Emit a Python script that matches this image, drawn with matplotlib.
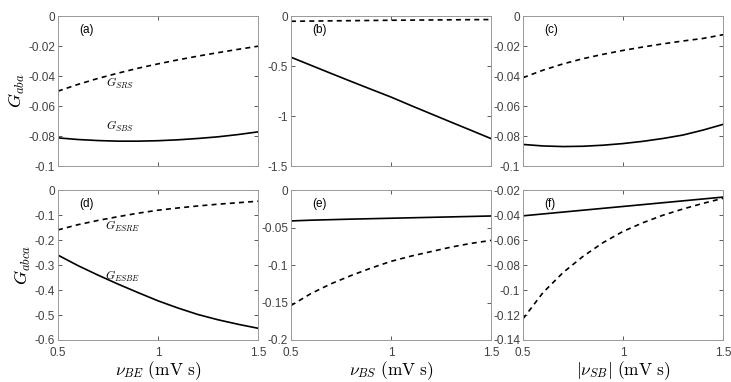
import matplotlib
matplotlib.use("Agg")
import matplotlib.pyplot as plt
from matplotlib.ticker import FuncFormatter

plt.rcParams['axes.unicode_minus'] = False
plt.rcParams['mathtext.fontset'] = 'cm'
plt.rcParams['font.family'] = 'Liberation Sans'

x = [0.5, 0.6, 0.7, 0.8, 0.9, 1.0, 1.1, 1.2, 1.3, 1.4, 1.5]

# (a) G_aba vs nu_BE
a_dash = [-0.050, -0.0455, -0.0415, -0.038, -0.0347, -0.0318, -0.0291, -0.0266, -0.0243, -0.0221, -0.0200]
a_solid = [-0.0812, -0.0823, -0.0830, -0.0834, -0.0834, -0.0831, -0.0825, -0.0816, -0.0805, -0.0790, -0.0772]
# (b) G_aba vs nu_BS
b_dash = [-0.050, -0.048, -0.046, -0.044, -0.042, -0.040, -0.0385, -0.037, -0.0355, -0.034, -0.033]
b_solid = [-0.410, -0.491, -0.572, -0.652, -0.731, -0.809, -0.894, -0.977, -1.060, -1.142, -1.225]
# (c) G_aba vs |nu_SB|
c_dash = [-0.041, -0.036, -0.0318, -0.0283, -0.0254, -0.0228, -0.0205, -0.0184, -0.0165, -0.0148, -0.0123]
c_solid = [-0.0856, -0.0866, -0.0870, -0.0868, -0.0861, -0.0850, -0.0835, -0.0816, -0.0793, -0.0760, -0.0722]
# (d) G_abca vs nu_BE
d_dash = [-0.159, -0.138, -0.121, -0.106, -0.092, -0.080, -0.071, -0.063, -0.056, -0.050, -0.044]
d_solid = [-0.260, -0.302, -0.340, -0.376, -0.410, -0.443, -0.472, -0.498, -0.519, -0.537, -0.553]
# (e) G_abca vs nu_BS
e_dash = [-0.154, -0.138, -0.125, -0.114, -0.104, -0.095, -0.088, -0.082, -0.076, -0.071, -0.067]
e_solid = [-0.041, -0.040, -0.0393, -0.0386, -0.038, -0.0374, -0.0368, -0.0362, -0.0356, -0.0350, -0.0344]
# (f) G_abca vs |nu_SB|
f_dash = [-0.123, -0.102, -0.086, -0.073, -0.062, -0.053, -0.046, -0.040, -0.035, -0.0305, -0.0265]
f_solid = [-0.0405, -0.039, -0.0375, -0.036, -0.0345, -0.033, -0.0315, -0.030, -0.0285, -0.027, -0.0255]

panels = [
    ('(a)', a_dash, a_solid, (-0.1, 0), [0, -0.02, -0.04, -0.06, -0.08, -0.1]),
    ('(b)', b_dash, b_solid, (-1.5, 0), [0, -0.5, -1, -1.5]),
    ('(c)', c_dash, c_solid, (-0.1, 0), [0, -0.02, -0.04, -0.06, -0.08, -0.1]),
    ('(d)', d_dash, d_solid, (-0.6, 0), [0, -0.1, -0.2, -0.3, -0.4, -0.5, -0.6]),
    ('(e)', e_dash, e_solid, (-0.2, 0), [0, -0.05, -0.1, -0.15, -0.2]),
    ('(f)', f_dash, f_solid, (-0.14, -0.02), [-0.02, -0.04, -0.06, -0.08, -0.1, -0.12, -0.14]),
]
xlabels = [r'$\nu_{BE}\ \mathrm{(mV\ s)}$', r'$\nu_{BS}\ \mathrm{(mV\ s)}$', r'$|\nu_{SB}|\ \mathrm{(mV\ s)}$']

fig = plt.figure(figsize=(7.31, 3.82), dpi=100)
lefts = [0.0793, 0.398, 0.7155]
bottoms = [0.5654, 0.110]
w, h = 0.2736, 0.392

axes = []
for i, (lab, yd, ys, ylim, yt) in enumerate(panels):
    r, c = divmod(i, 3)
    ax = fig.add_axes([lefts[c], bottoms[r], w, h])
    ax.plot(x, yd, color='black', lw=1.2, ls=(0, (3, 2.5)))
    ax.plot(x, ys, color='black', lw=1.2)
    ax.set_xlim(0.5, 1.5)
    ax.set_ylim(*ylim)
    ax.set_xticks([0.5, 1, 1.5])
    ax.set_yticks(yt)
    ax.yaxis.set_major_formatter(FuncFormatter(lambda v, p: '%g' % round(v, 4)))
    ax.xaxis.set_major_formatter(FuncFormatter(lambda v, p: '%g' % v))
    ax.tick_params(direction='in', top=True, right=True, length=3, width=0.6,
                   labelsize=8.5, colors='0.25', pad=2)
    ax.tick_params(axis='x', pad=5)
    for s in ax.spines.values():
        s.set_color('0.6')
        s.set_linewidth(0.7)
    if r == 0:
        ax.set_xticklabels([])
    else:
        ax.set_xlabel(xlabels[c], fontsize=12.5, labelpad=0)
    ax.text(0.105, 0.91, lab, transform=ax.transAxes, fontsize=8.5, va='center')
    axes.append(ax)

axes[0].set_ylabel(r'$G_{aba}$', fontsize=13, labelpad=1)
axes[3].set_ylabel(r'$G_{abca}$', fontsize=13, labelpad=1)

axes[0].text(0.81, -0.045, r'$G_{SRS}$', fontsize=8.5, ha='center', va='center')
axes[0].text(0.81, -0.0735, r'$G_{SBS}$', fontsize=8.5, ha='center', va='center')
axes[3].text(0.825, -0.145, r'$G_{ESRE}$', fontsize=8.5, ha='center', va='center')
axes[3].text(0.825, -0.345, r'$G_{ESBE}$', fontsize=8.5, ha='center', va='center')

fig.savefig('out.png', dpi=100)
